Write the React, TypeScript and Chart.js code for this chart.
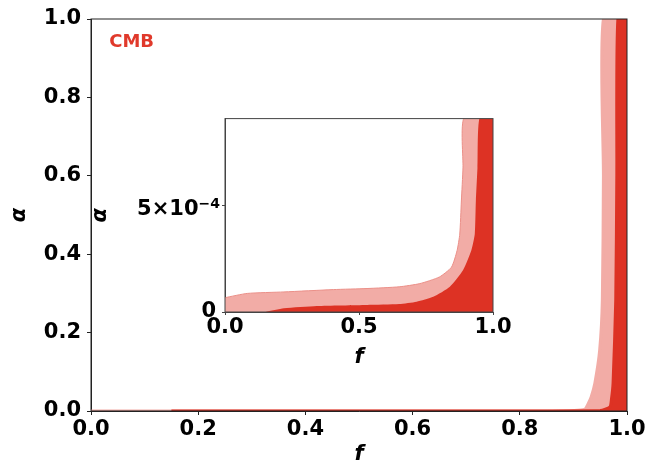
import React, { useEffect, useRef } from 'react';
import { Chart, registerables } from 'chart.js';

Chart.register(...registerables);

// ---- main panel ----
const mainXTicks = [0, 0.2, 0.4, 0.6, 0.8, 1.0];
const mainXTickLabels = ['0.0', '0.2', '0.4', '0.6', '0.8', '1.0'];
const mainYTicks = [0, 0.2, 0.4, 0.6, 0.8, 1.0];
const mainYTickLabels = ['0.0', '0.2', '0.4', '0.6', '0.8', '1.0'];

// 2-sigma (outer) contour boundary: f, alpha
const mainOuterF = [0, 0.15, 0.5, 0.85, 0.9, 0.921, 0.928, 0.933, 0.94, 0.949, 0.954, 0.956, 0.956];
const mainOuterA = [0.00007, 0.0001, 0.0001, 0.0002, 0.001, 0.004, 0.02, 0.035, 0.071, 0.155, 0.283, 0.6, 1.0];
// 1-sigma (inner) contour boundary
const mainInnerF = [0.15, 0.5, 0.85, 0.95, 0.968, 0.971, 0.974, 0.979, 0.981, 0.983];
const mainInnerA = [0, 0.00003, 0.0001, 0.001, 0.01, 0.03, 0.071, 0.283, 0.6, 1.0];

// ---- inset panel ----
const insetXTicks = [0, 0.5, 1.0];
const insetXTickLabels = ['0.0', '0.5', '1.0'];
const insetYTicks = [0, 5e-4];
const insetYTickLabels = ['0', '5×10'];
const insetYTickExponents = ['', '−4'];
const insetYMax = 9.06e-4;

const insetOuterF = [0, 0.083, 0.22, 0.405, 0.53, 0.65, 0.727, 0.8, 0.845, 0.866, 0.876, 0.882, 0.888, 0.892];
const insetOuterA = [0.67e-4, 0.87e-4, 0.94e-4, 1.05e-4, 1.1e-4, 1.18e-4, 1.33e-4, 1.64e-4, 2.1e-4, 2.88e-4, 3.65e-4, 5.2e-4, 6.75e-4, 9.1e-4];
const insetInnerF = [0.151, 0.22, 0.343, 0.53, 0.65, 0.715, 0.777, 0.839, 0.888, 0.919, 0.932, 0.936, 0.942, 0.95];
const insetInnerA = [0, 0.17e-4, 0.28e-4, 0.33e-4, 0.37e-4, 0.48e-4, 0.71e-4, 1.18e-4, 1.95e-4, 2.88e-4, 3.65e-4, 5.2e-4, 6.75e-4, 9.1e-4];

const LIGHT = '#f2aca6';
const LIGHT_EDGE = '#eb9089';
const DARK = '#dd3224';
const LABEL_RED = '#e0392b';
const AXIS = '#222222';
const INSET_AXIS = '#444444';

const tickFont = { family: 'DejaVu Sans', weight: 'bold' as const, size: 21 };
const titleFont = { family: 'DejaVu Sans', weight: 'bold' as const, style: 'italic' as const, size: 21 };

function region(f: number[], a: number[]) {
  const pts = f.map((x, i) => ({ x, y: a[i] }));
  const top = a[a.length - 1];
  pts.push({ x: 1, y: top });
  pts.push({ x: 1, y: 0 });
  return pts;
}

function makeFrame(color: string) {
  return {
    id: 'frame',
    afterDatasetsDraw(chart: any) {
      const { ctx, chartArea } = chart;
      const { left, top, right, bottom } = chartArea;
      ctx.save();
      ctx.strokeStyle = color;
      ctx.lineWidth = 1;
      ctx.strokeRect(left, top, right - left, bottom - top);
      ctx.restore();
    },
  };
}

const cmbPlugin = {
  id: 'cmbLabel',
  afterDraw(chart: any) {
    const { ctx, scales } = chart;
    const x = scales.x.getPixelForValue(0.034);
    const y = scales.y.getPixelForValue(0.94);
    ctx.save();
    ctx.fillStyle = LABEL_RED;
    ctx.font = 'bold 18px "DejaVu Sans"';
    ctx.textAlign = 'left';
    ctx.textBaseline = 'middle';
    ctx.fillText('CMB', x, y);
    ctx.restore();
  },
};

// draws inset y tick labels that carry a superscript exponent
const expLabelPlugin = {
  id: 'expLabels',
  afterDraw(chart: any) {
    const { ctx, scales } = chart;
    const ys = scales.y;
    ctx.save();
    ctx.fillStyle = '#000';
    ctx.textBaseline = 'alphabetic';
    ctx.textAlign = 'left';
    insetYTicks.forEach((v, i) => {
      const exp = insetYTickExponents[i];
      if (!exp) return;
      const y = ys.getPixelForValue(v);
      const xRight = ys.right - 5;
      ctx.font = 'bold 14px "DejaVu Sans"';
      const supW = ctx.measureText(exp).width;
      ctx.font = 'bold 21px "DejaVu Sans"';
      const baseW = ctx.measureText(insetYTickLabels[i]).width;
      ctx.fillText(insetYTickLabels[i], xRight - supW - baseW, y + 10);
      ctx.font = 'bold 14px "DejaVu Sans"';
      ctx.fillText(exp, xRight - supW, y + 3);
    });
    ctx.restore();
  },
};

function axisCfg(opts: {
  ticks: number[];
  labels: string[];
  min: number;
  max: number;
  fit: (s: any) => void;
  title: string;
  titlePad: any;
  tickLength: number;
  tickPad: number;
  color: string;
  hideExp?: string[];
}) {
  return {
    type: 'linear' as const,
    min: opts.min,
    max: opts.max,
    afterBuildTicks: (s: any) => {
      s.ticks = opts.ticks.map((v) => ({ value: v }));
    },
    afterFit: opts.fit,
    ticks: {
      callback: (_v: any, i: number) => (opts.hideExp && opts.hideExp[i] ? '' : opts.labels[i]),
      font: tickFont,
      color: '#000',
      padding: opts.tickPad,
      maxRotation: 0,
      autoSkip: false,
    },
    grid: {
      display: true,
      drawOnChartArea: false,
      drawTicks: true,
      tickLength: opts.tickLength,
      color: opts.color,
    },
    border: { display: true, color: opts.color },
    title: {
      display: true,
      text: opts.title,
      font: titleFont,
      color: '#000',
      padding: opts.titlePad,
    },
  };
}

export default function App() {
  const mainRef = useRef<HTMLCanvasElement>(null);
  const insetRef = useRef<HTMLCanvasElement>(null);

  useEffect(() => {
    const main = new Chart(mainRef.current as HTMLCanvasElement, {
      type: 'line',
      data: {
        datasets: [
          {
            data: region(mainOuterF, mainOuterA),
            borderColor: LIGHT,
            backgroundColor: LIGHT,
            borderWidth: 3,
            fill: 'origin',
            pointRadius: 0,
            tension: 0.2,
            order: 2,
          },
          {
            data: region(mainInnerF, mainInnerA),
            borderColor: DARK,
            backgroundColor: DARK,
            borderWidth: 3,
            fill: 'origin',
            pointRadius: 0,
            tension: 0.2,
            order: 1,
          },
        ],
      },
      options: {
        animation: false,
        responsive: false,
        maintainAspectRatio: false,
        layout: { padding: { left: 0, right: 35, top: 19, bottom: 0 } },
        plugins: { legend: { display: false }, tooltip: { enabled: false } },
        scales: {
          x: axisCfg({
            ticks: mainXTicks,
            labels: mainXTickLabels,
            min: 0,
            max: 1,
            fit: (s: any) => {
              s.height = 56;
            },
            title: 'f',
            titlePad: { top: 0, bottom: 0 },
            tickLength: 4,
            tickPad: 2,
            color: AXIS,
          }),
          y: axisCfg({
            ticks: mainYTicks,
            labels: mainYTickLabels,
            min: 0,
            max: 1,
            fit: (s: any) => {
              s.width = 91;
            },
            title: 'α',
            titlePad: { top: 7, bottom: 0 },
            tickLength: 4,
            tickPad: 6,
            color: AXIS,
          }),
        },
      },
      plugins: [makeFrame(AXIS), cmbPlugin],
    });

    const inset = new Chart(insetRef.current as HTMLCanvasElement, {
      type: 'line',
      data: {
        datasets: [
          {
            data: region(insetOuterF, insetOuterA),
            borderColor: LIGHT_EDGE,
            backgroundColor: LIGHT,
            borderWidth: 1,
            fill: 'origin',
            pointRadius: 0,
            tension: 0.2,
            order: 2,
          },
          {
            data: region(insetInnerF, insetInnerA),
            borderColor: DARK,
            backgroundColor: DARK,
            borderWidth: 0,
            fill: 'origin',
            pointRadius: 0,
            tension: 0.2,
            order: 1,
          },
        ],
      },
      options: {
        animation: false,
        responsive: false,
        maintainAspectRatio: false,
        layout: { padding: { left: 0, right: 20, top: 17, bottom: 0 } },
        plugins: { legend: { display: false }, tooltip: { enabled: false } },
        scales: {
          x: axisCfg({
            ticks: insetXTicks,
            labels: insetXTickLabels,
            min: 0,
            max: 1,
            fit: (s: any) => {
              s.height = 58;
            },
            title: 'f',
            titlePad: { top: 0, bottom: 0 },
            tickLength: 3,
            tickPad: 0,
            color: INSET_AXIS,
          }),
          y: axisCfg({
            ticks: insetYTicks,
            labels: insetYTickLabels,
            min: 0,
            max: insetYMax,
            fit: (s: any) => {
              s.width = 137;
            },
            title: 'α',
            titlePad: { top: 0, bottom: 0 },
            tickLength: 3,
            tickPad: 6,
            color: INSET_AXIS,
            hideExp: insetYTickExponents,
          }),
        },
      },
      plugins: [makeFrame(INSET_AXIS), expLabelPlugin],
    });

    return () => {
      main.destroy();
      inset.destroy();
    };
  }, []);

  return (
    <div style={{ position: 'absolute', left: 0, top: 0, width: 662, height: 467, background: '#fff' }}>
      <canvas
        ref={mainRef}
        width={662}
        height={467}
        style={{ position: 'absolute', left: 0, top: 0, width: 662, height: 467 }}
      />
      <canvas
        ref={insetRef}
        width={425}
        height={270}
        style={{ position: 'absolute', left: 88, top: 100, width: 425, height: 270 }}
      />
    </div>
  );
}
